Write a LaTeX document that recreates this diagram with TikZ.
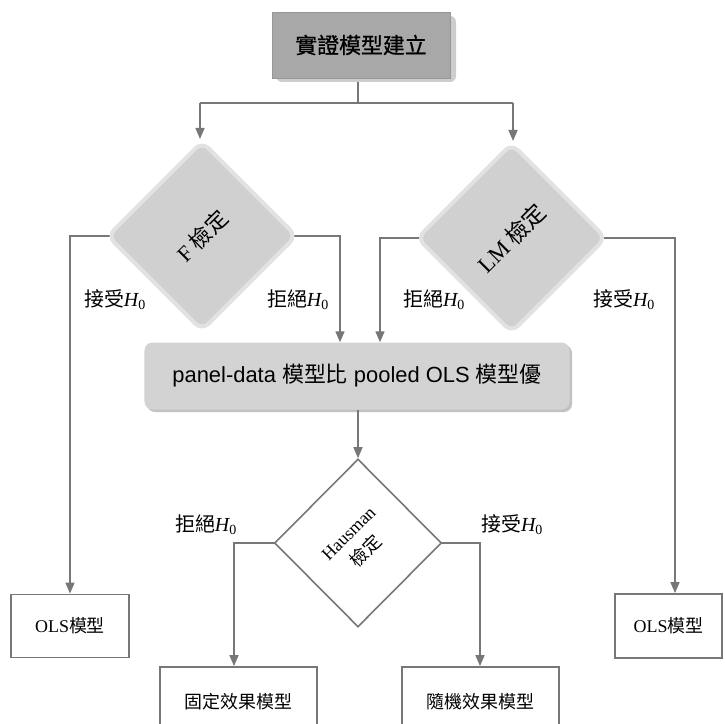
\documentclass[tikz,border=0pt]{standalone}
\usepackage{fontspec}
\setmainfont{Liberation Serif}
\newfontfamily\cjk{Noto Sans CJK TC}
\newfontfamily\cjkb[FakeBold=0.8]{Noto Sans CJK TC}
\newfontfamily\sansf{Liberation Sans}
\usetikzlibrary{shapes.geometric,arrows.meta,backgrounds}
\definecolor{linec}{HTML}{777777}
\definecolor{topfill}{HTML}{A8A8A8}
\definecolor{topshadow}{HTML}{CDCDCD}
\definecolor{panelfill}{HTML}{D3D3D3}
\definecolor{dfill}{HTML}{D0D0D0}
\definecolor{dborder}{HTML}{E2E2E2}
\newcommand{\hzero}{{\itshape H}\textsubscript{0}}
\tikzset{
  conn/.style={draw=linec, line width=1.6bp},
  arr/.style={conn, -{Triangle[length=11bp,width=9bp]}},
  resbox/.style={draw=linec, line width=1.8bp, fill=white, inner sep=0pt},
  gdiamond/.style={diamond, draw=dborder, line width=4bp, fill=dfill, rounded corners=9bp, inner sep=0pt},
  wdiamond/.style={diamond, draw=linec, line width=1.6bp, fill=white, inner sep=0pt},
  lbl/.style={font=\fontsize{20}{22}\selectfont, inner sep=0pt},
}
\begin{document}
\begin{tikzpicture}[x=1bp,y=-1bp]
\useasboundingbox (0,0) rectangle (724,724);
% top box
\fill[topshadow, rounded corners=6bp] (276,16) rectangle (456,82);
\node[fill=topfill, draw=topfill!90!black, line width=0.6bp, minimum width=178bp, minimum height=66bp, inner sep=0pt, font=\cjkb\fontsize{22}{24}\selectfont] (top) at (361,45) {實證模型建立};
\coordinate (j) at (358,103);
\coordinate (jl) at (200,103);
\coordinate (jr) at (513,103);
% diamonds
\node[gdiamond, minimum width=190bp, minimum height=190bp] (F) at (202,236) {};
\node[rotate=45, font=\fontsize{22}{24}\selectfont] (Ft) at (F.center) {F {\cjk 檢定}};
\node[gdiamond, minimum width=190bp, minimum height=190bp] (LM) at (511.5,238) {};
\node[rotate=45, font=\fontsize{23}{25}\selectfont] (LMt) at (LM.center) {LM {\cjk 檢定}};
% panel box
\fill[panelfill!92!black, rounded corners=8bp] (147,345) rectangle (572,412);
\node[fill=panelfill, rounded corners=8bp, minimum width=425bp, minimum height=67bp, inner sep=0pt, font=\sansf\fontsize{22}{24}\selectfont] (P) at (357,376) {panel-data {\cjk 模型比} pooled OLS {\cjk 模型優}};
% Hausman
\node[wdiamond, minimum width=167bp, minimum height=168bp] (H) at (358,543) {};
\node[rotate=45, align=center, font=\fontsize{18}{20}\selectfont] (Ht) at (H.center) {Hausman\\[5pt]{\cjk 檢定}};
% result boxes
\node[resbox, minimum width=118bp, minimum height=63bp, font=\fontsize{18}{20}\selectfont] (O1) at (70,626) {OLS{\cjk 模型}};
\node[resbox, minimum width=107bp, minimum height=64bp, font=\fontsize{18}{20}\selectfont] (O2) at (668.5,626) {OLS{\cjk 模型}};
\node[resbox, minimum width=157bp, minimum height=80bp] (FE) at (238.5,707) {};
\node[font=\cjk\fontsize{18}{20}\selectfont] (FEt) at (238.5,702) {固定效果模型};
\node[resbox, minimum width=157bp, minimum height=80bp] (RE) at (480.5,707) {};
\node[font=\cjk\fontsize{18}{20}\selectfont] (REt) at (480.5,702) {隨機效果模型};
% connectors
\begin{scope}[on background layer]
\draw[conn] (top.south -| j) -- (j);
\draw[conn] (jl) -- (jr);
\draw[arr] (F.center) -| (O1.north);
\draw[arr] (F.center) -| ([xshift=-17bp]P.north);
\draw[arr] (LM.center) -| ([xshift=23bp]P.north);
\draw[arr] (LM.center) -| ([xshift=6.5bp]O2.north);
\draw[arr] (H.center) -| ([xshift=-4.5bp]FE.north);
\draw[arr] (H.center) -| ([xshift=-0.5bp]RE.north);
\end{scope}
\draw[arr] (jl) -- (jl |- F.north);
\draw[arr] (jr) -- (jr |- LM.north);
\draw[arr] (P.south -| H.north) -- (H.north);
% labels
\node[lbl] (l1) at (115,300) {{\cjk 接受}\hzero};
\node[lbl] (l2) at (298,300) {{\cjk 拒絕}\hzero};
\node[lbl] (l3) at (434,300) {{\cjk 拒絕}\hzero};
\node[lbl] (l4) at (624,300) {{\cjk 接受}\hzero};
\node[lbl] (l5) at (206,525) {{\cjk 拒絕}\hzero};
\node[lbl] (l6) at (512,525) {{\cjk 接受}\hzero};
\end{tikzpicture}
\end{document}
